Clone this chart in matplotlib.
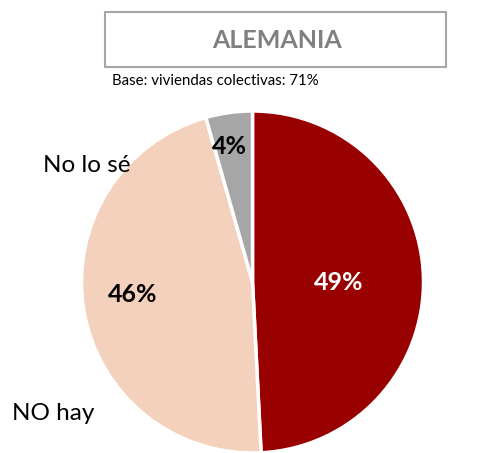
import matplotlib
matplotlib.use("Agg")
import matplotlib.pyplot as plt
from matplotlib.patches import Rectangle

categories = ["Sí hay", "NO hay", "No lo sé"]
values = [49.2, 46.4, 4.4]
colors = ["#990000", "#F4D1BC", "#A6A6A6"]
pct_labels = ["49%", "46%", "4%"]
title = "ALEMANIA"
subtitle = "Base: viviendas colectivas: 71%"

W, H = 479, 453
fig = plt.figure(figsize=(W / 100, H / 100), dpi=100)
ax = fig.add_axes([0, 0, 1, 1])

font = ["Lato", "DejaVu Sans"]

cx, cy, r = 252.5, H - 282, 171
ax.pie(values, colors=colors, startangle=90, counterclock=False,
       center=(cx, cy), radius=r, frame=True,
       wedgeprops=dict(edgecolor="white", linewidth=2.5))
ax.set_xlim(0, W)
ax.set_ylim(0, H)
ax.set_aspect("equal")
ax.axis("off")

# percentage labels
ax.text(339, H - 282, pct_labels[0], color="white", fontsize=18, fontweight="bold",
        ha="center", va="center", family=font)
ax.text(133, H - 295, pct_labels[1], color="black", fontsize=18, fontweight="bold",
        ha="center", va="center", family=font)
ax.text(229, H - 147, pct_labels[2], color="black", fontsize=18, fontweight="bold",
        ha="center", va="center", family=font)

# category labels
ax.text(43, H - 165, categories[2], color="black", fontsize=17.5,
        ha="left", va="center", family=font)
ax.text(12, H - 413, categories[1], color="black", fontsize=17.5,
        ha="left", va="center", family=font)

# title box
ax.add_patch(Rectangle((105, H - 67), 341, 55, facecolor="white",
                       edgecolor="#A6A6A6", linewidth=1.5))
ax.text(277, H - 41, title, color="#808080", fontsize=18, fontweight="bold",
        ha="center", va="center", family=font)
ax.text(112, H - 81, subtitle, color="black", fontsize=10.8,
        ha="left", va="center", family=font)

fig.savefig("out.png", dpi=100)
